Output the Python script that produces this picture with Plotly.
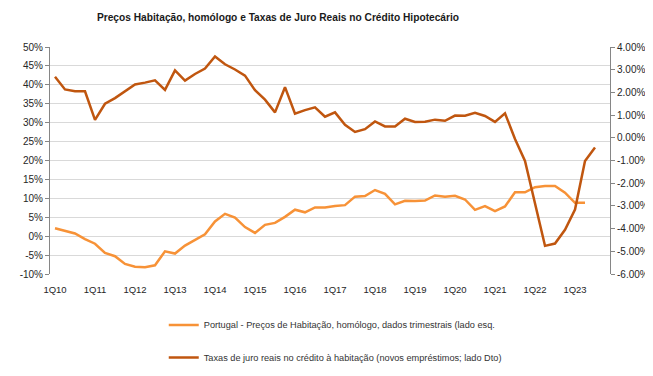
import plotly.graph_objects as go

# Categories: quarters 1Q10 .. 4Q23
years = list(range(10, 24))
quarters = [f"{q}Q{y:02d}" for y in years for q in range(1, 5)]
x_labels = [f"1Q{y:02d}" for y in years]

# Portugal - house prices y/y (%), left axis
house_prices = [2.1, 1.45, 0.7, -0.8, -2.0, -4.4, -5.3, -7.35, -8.1, -8.2,
                -7.7, -4.0, -4.6, -2.5, -1.1, 0.5, 3.9, 5.9, 4.9, 2.4,
                0.86, 3.0, 3.5, 5.1, 7.0, 6.3, 7.6, 7.6, 8.0, 8.2,
                10.45, 10.6, 12.2, 11.2, 8.4, 9.35, 9.3, 9.4, 10.75, 10.4,
                10.65, 9.7, 6.95, 7.95, 6.6, 7.85, 11.6, 11.6, 12.95, 13.25,
                13.25, 11.5, 8.8, 8.8]

# Real mortgage interest rates (%), right axis
real_rates = [2.69, 2.13, 2.05, 2.05, 0.79, 1.50, 1.75, 2.06, 2.35, 2.43,
              2.53, 2.11, 2.97, 2.52, 2.81, 3.05, 3.58, 3.24, 3.01, 2.74,
              2.10, 1.68, 1.12, 2.23, 1.06, 1.22, 1.34, 0.93, 1.12, 0.57,
              0.26, 0.38, 0.72, 0.50, 0.50, 0.84, 0.70, 0.71, 0.80, 0.75,
              0.98, 0.97, 1.10, 0.96, 0.70, 1.08, -0.05, -1.02, -2.9, -4.76,
              -4.66, -4.05, -3.16, -1.02, -0.43]

left_tickvals = [50, 45, 40, 35, 30, 25, 20, 15, 10, 5, 0, -5, -10]
left_ticktext = ["50%", "45%", "40%", "35%", "30%", "25%", "20%", "15%",
                 "10%", "5%", "0%", "-5%", "-10%"]
right_tickvals = [4, 3, 2, 1, 0, -1, -2, -3, -4, -5, -6]
right_ticktext = ["4.00%", "3.00%", "2.00%", "1.00%", "0.00%", "-1.00%",
                  "-2.00%", "-3.00%", "-4.00%", "-5.00%", "-6.00%"]

name1 = "Portugal - Preços de Habitação, homólogo, dados trimestrais (lado esq."
name2 = "Taxas de juro reais no crédito à habitação (novos empréstimos; lado Dto)"
title = "Preços Habitação, homólogo e Taxas de Juro Reais no Crédito Hipotecário"

ORANGE = "#F79237"
DARK = "#C0560F"
AXIS = "#868686"
GRID = "#D9D9D9"
TXT = "#262626"

fig = go.Figure()
fig.add_trace(go.Scatter(x=quarters[:len(house_prices)], y=house_prices,
                         name=name1, mode="lines",
                         line=dict(color=ORANGE, width=2.5), legend="legend"))
fig.add_trace(go.Scatter(x=quarters[:len(real_rates)], y=real_rates,
                         name=name2, mode="lines",
                         line=dict(color=DARK, width=2.5), yaxis="y2",
                         legend="legend2"))

font_main = "Liberation Sans, Arial, sans-serif"
leg_x = (154 - 37) / 576

fig.update_layout(
    width=653, height=376,
    margin=dict(l=37, r=40, t=39, b=100),
    paper_bgcolor="white", plot_bgcolor="white",
    font=dict(family=font_main, size=10, color=TXT),
    title=dict(text="<b>" + title + "</b>", x=270 / 653, xanchor="center",
               y=1 - 9 / 376, yanchor="middle",
               font=dict(family=font_main, size=10.2, color="#1a1a1a")),
    showlegend=True,
    legend=dict(x=leg_x, y=(276 - 314) / 237, xanchor="left",
                yanchor="top", bgcolor="rgba(0,0,0,0)",
                font=dict(size=9.2, color="#333333"), itemwidth=30),
    legend2=dict(x=leg_x, y=(276 - 348) / 237, xanchor="left",
                 yanchor="top", bgcolor="rgba(0,0,0,0)",
                 font=dict(size=9.2, color="#333333"), itemwidth=30),
    xaxis=dict(type="category", categoryorder="array", categoryarray=quarters,
               range=[-0.5, len(quarters) - 0.5],
               tickmode="array", tickvals=x_labels, ticktext=x_labels,
               showgrid=False, showline=False, ticks="", zeroline=False,
               ticklabelstandoff=8,
               tickfont=dict(size=9.5, color=TXT)),
    xaxis2=dict(overlaying="x", anchor="free", position=1 / 6,
                range=[-0.5, len(quarters) - 0.5], tickmode="linear",
                tick0=0.5, dtick=1, ticks="outside", ticklen=4,
                tickcolor=AXIS, showticklabels=False, showgrid=False,
                showline=True, linecolor=AXIS, linewidth=1, zeroline=False),
    yaxis=dict(range=[-10, 50], tickmode="array", tickvals=left_tickvals,
               ticktext=left_ticktext, showgrid=True, gridcolor=GRID,
               gridwidth=1, zeroline=False, showline=True, linecolor=AXIS,
               ticks="outside", ticklen=4, tickcolor=AXIS,
               tickfont=dict(size=10, color=TXT)),
    yaxis2=dict(range=[-6, 4], overlaying="y", side="right",
                tickmode="array", tickvals=right_tickvals,
                ticktext=right_ticktext, showgrid=False, zeroline=False,
                showline=True, linecolor=AXIS, ticks="outside", ticklen=4,
                tickcolor=AXIS, tickfont=dict(size=10, color=TXT)),
)

fig.write_html("out.html")
